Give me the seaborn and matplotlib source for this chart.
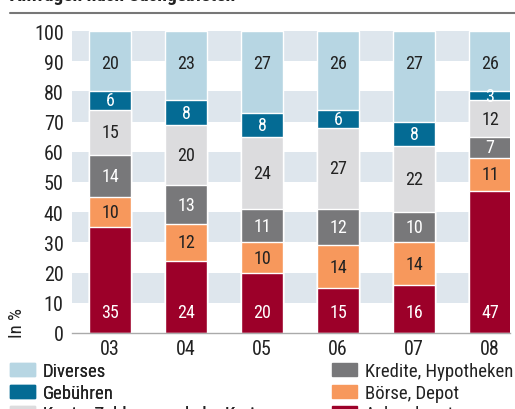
import pandas as pd
import numpy as np
import matplotlib
matplotlib.use("Agg")
import matplotlib.pyplot as plt
from matplotlib.lines import Line2D
from matplotlib.patches import Patch
import seaborn as sns

years = ["03", "04", "05", "06", "07", "08"]
# stack order, bottom to top
categories = ["Anlageberatung", "Börse, Depot", "Kredite, Hypotheken",
              "Konto, Zahlungsverkehr, Karten", "Gebühren", "Diverses"]
anlage = [35, 24, 20, 15, 16, 47]
boerse = [10, 12, 10, 14, 14, 11]
kredite = [14, 13, 11, 12, 10, 7]
konto = [15, 20, 24, 27, 22, 12]
gebuehren = [6, 8, 8, 6, 8, 3]
diverses = [20, 23, 27, 26, 27, 26]

colors = ["#9c0029", "#f7985c", "#78787a", "#dcdcde", "#046b94", "#b7d6e3"]
text_colors = ["white", "#222222", "white", "#222222", "white", "#222222"]

sns.set_style("white")
plt.rcParams["font.family"] = ["Roboto Condensed", "DejaVu Sans"]

df = pd.DataFrame({"year": years, "Anlageberatung": anlage, "Börse, Depot": boerse,
                   "Kredite, Hypotheken": kredite,
                   "Konto, Zahlungsverkehr, Karten": konto,
                   "Gebühren": gebuehren, "Diverses": diverses})

vals = df[categories].to_numpy(dtype=float)
# top segment (Diverses) fills whatever is left up to 100
drawn = vals.copy()
drawn[:, -1] = 100 - vals[:, :-1].sum(axis=1)
tops = drawn.cumsum(axis=1)
bottoms = tops - drawn

fig = plt.figure(figsize=(5.15, 4.10), dpi=100)
ax = fig.add_axes([72 / 515, 76 / 410, 438 / 515, 302 / 410])

for lo in [10, 30, 50, 70, 90]:
    ax.axhspan(lo, lo + 10, color="#dee6ed", lw=0, zorder=0)

# draw cumulative heights from the top down so each overlaps the next
for i in range(len(categories) - 1, -1, -1):
    sns.barplot(x=df["year"], y=tops[:, i], color=colors[i], width=0.54,
                saturation=1, ax=ax, zorder=2)

for j in range(len(years)):
    for i in range(len(categories)):
        if i == 0:
            ypos = 7
        elif i == len(categories) - 1:
            ypos = 89.5
        else:
            ypos = (bottoms[j, i] + tops[j, i]) / 2
        ax.text(j, ypos, f"{int(vals[j, i])}", ha="center", va="center",
                color=text_colors[i], fontsize=13, zorder=3)

ax.set_ylim(0, 100)
ax.set_xlim(-0.5, 5.263)
ax.set_yticks(range(0, 101, 10))
ax.tick_params(axis="both", length=0, labelsize=14.5, colors="#222222")
ax.tick_params(axis="y", pad=6)
ax.tick_params(axis="x", pad=4)
ax.set_xlabel("")
ax.set_ylabel("In %", fontsize=13.5, color="#222222")
ax.yaxis.set_label_coords(-0.105, 0.035)
for s in ["top", "right", "left"]:
    ax.spines[s].set_visible(False)
ax.spines["bottom"].set_color("#aaaaaa")
ax.spines["bottom"].set_linewidth(1)

# title (cut off at the top of the image) and rule
fig.text(10 / 515, 1 - 1 / 410, "Anfragen nach Sachgebieten", fontsize=14,
         fontweight="bold", va="baseline", ha="left", color="#222222")
fig.add_artist(Line2D([10 / 515, 1], [1 - 13.5 / 410] * 2, color="#777777", lw=1.5))

handles = [Patch(color=c) for c in colors]
left_idx = [5, 4, 3]
right_idx = [2, 1, 0]
kw = dict(frameon=False, fontsize=13.5, handlelength=1.35, handleheight=0.7,
          handletextpad=0.4, labelspacing=0.2, borderpad=0, borderaxespad=0,
          labelcolor="#222222")
leg1 = fig.legend([handles[i] for i in left_idx], [categories[i] for i in left_idx],
                  loc="upper left", bbox_to_anchor=(10 / 515, 1 - 363 / 410), **kw)
fig.add_artist(leg1)
fig.legend([handles[i] for i in right_idx], [categories[i] for i in right_idx],
           loc="upper left", bbox_to_anchor=(332 / 515, 1 - 363 / 410), **kw)

fig.savefig("out.png", dpi=100)
